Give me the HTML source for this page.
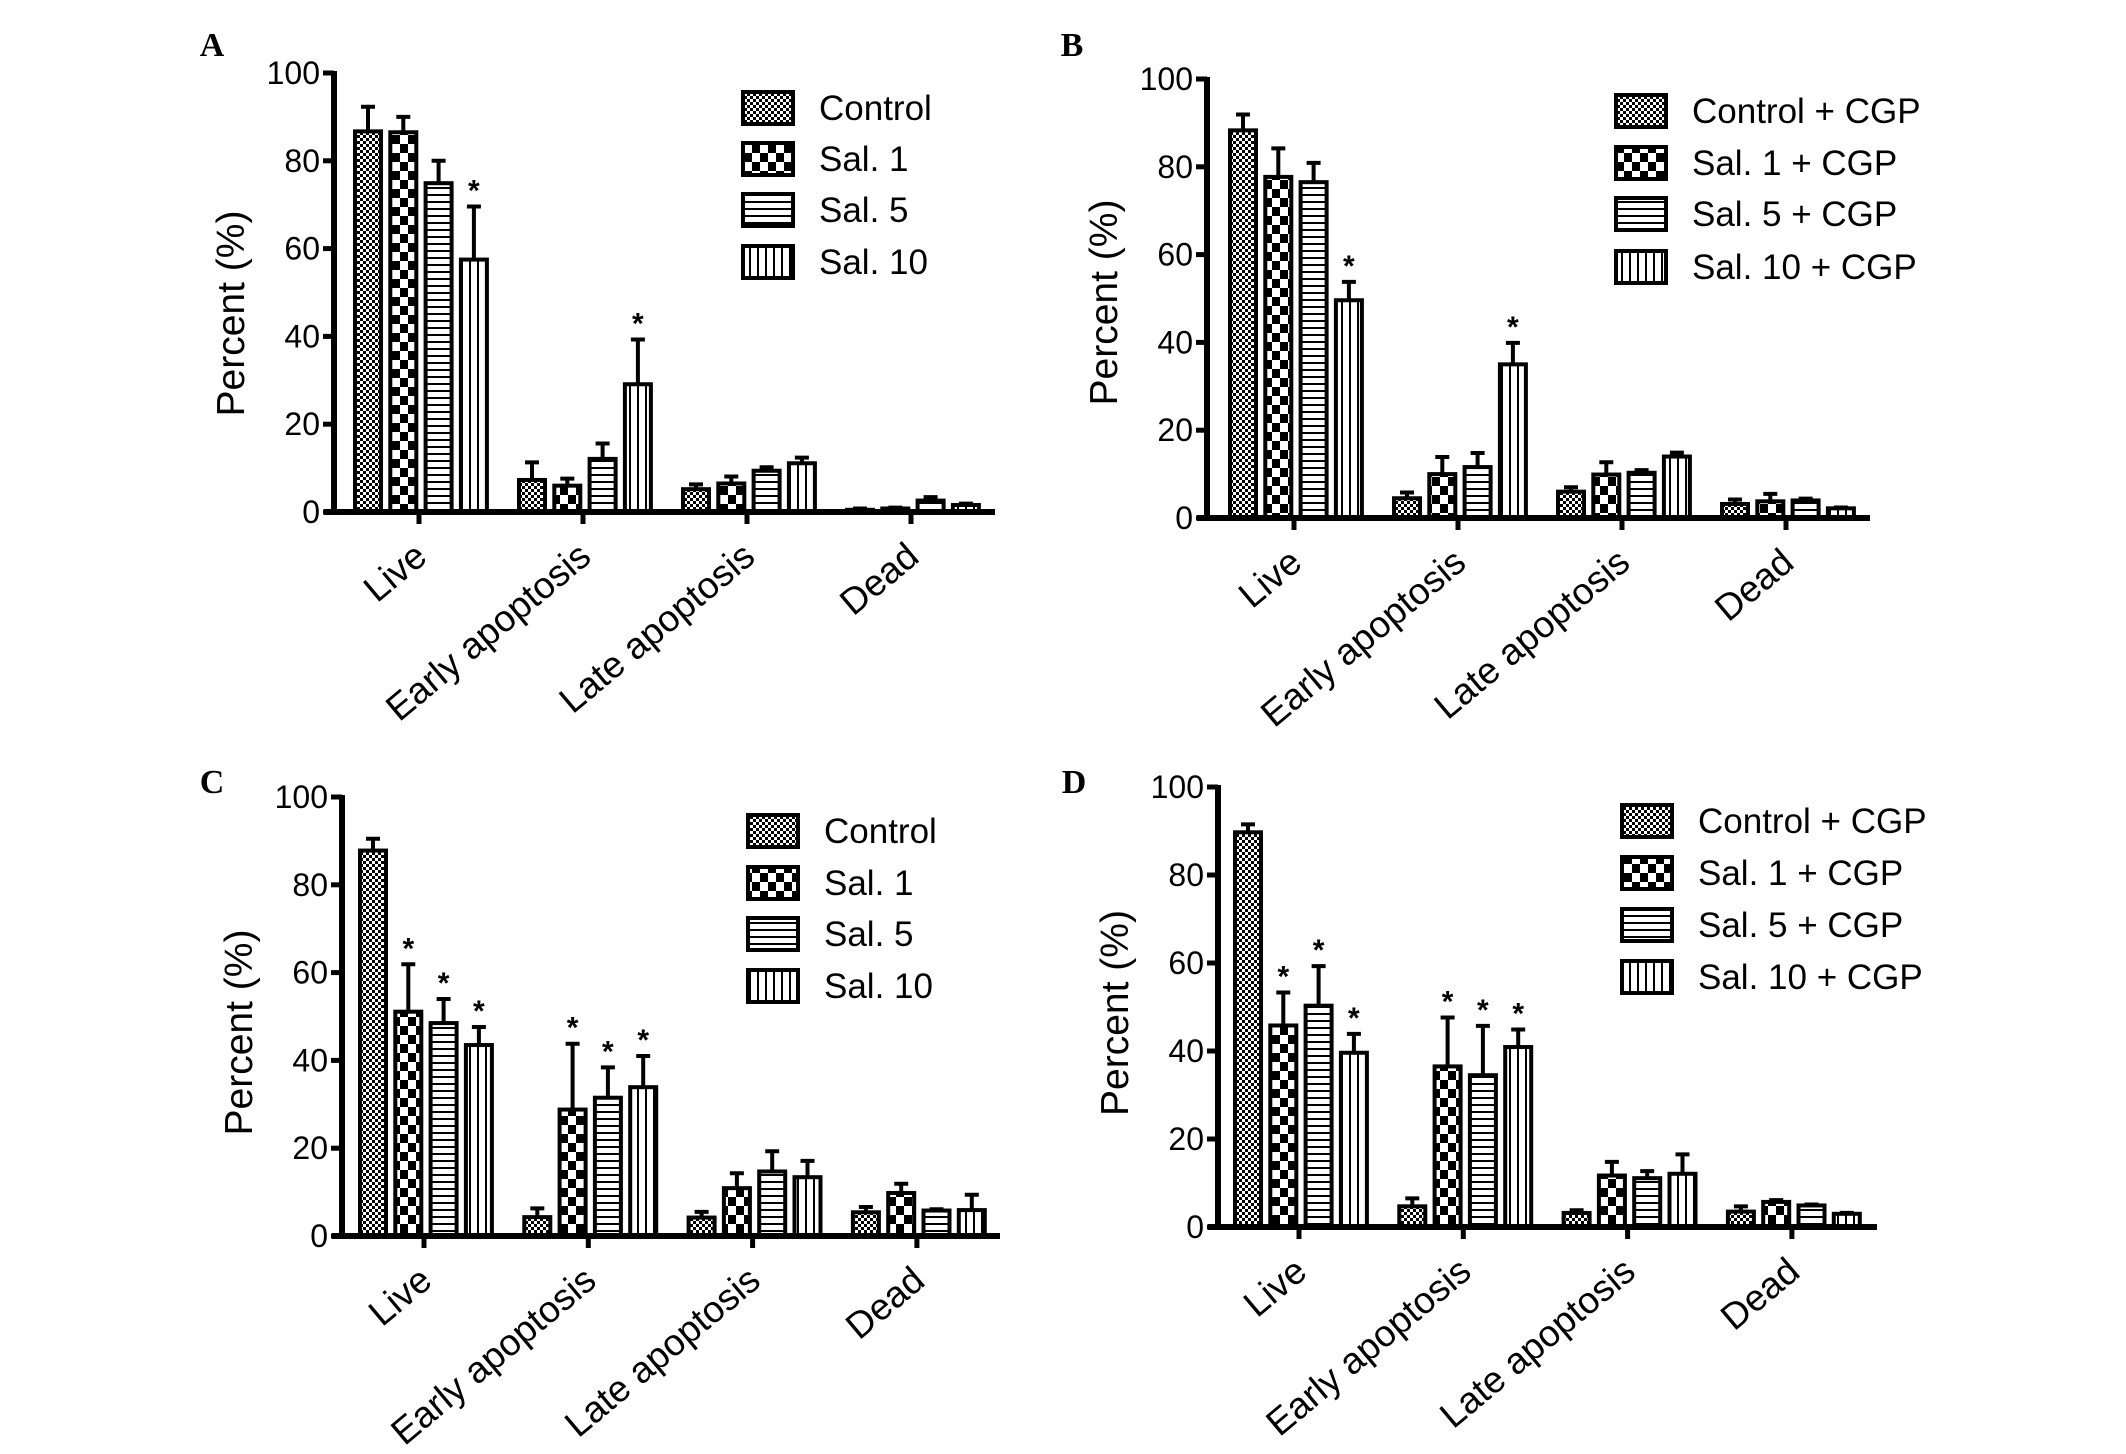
<!DOCTYPE html>
<html><head><meta charset="utf-8">
<style>
html,body{margin:0;padding:0;background:#fff;}
svg{display:block;}
text{font-family:"Liberation Sans",Arial,sans-serif;fill:#000;}
</style></head>
<body>
<svg id="fig" width="2126" height="1454" viewBox="0 0 2126 1454" xmlns="http://www.w3.org/2000/svg">
<defs>
<pattern id="pCtrl" width="6" height="6" patternUnits="userSpaceOnUse"><rect width="6" height="6" fill="#fff"/><rect width="3" height="3" fill="#000"/><rect x="3" y="3" width="3" height="3" fill="#000"/></pattern>
<pattern id="pS1" width="16" height="18" patternUnits="userSpaceOnUse"><rect width="16" height="18" fill="#fff"/><rect width="8" height="9" fill="#000"/><rect x="8" y="9" width="8" height="9" fill="#000"/></pattern>
<pattern id="pS5" width="8" height="7" patternUnits="userSpaceOnUse"><rect width="8" height="7" fill="#fff"/><rect y="5" width="8" height="2" fill="#000"/></pattern>
<pattern id="pS10" width="8" height="8" patternUnits="userSpaceOnUse"><rect width="8" height="8" fill="#fff"/><rect x="5" width="2" height="8" fill="#000"/></pattern>
</defs>
</svg>
<script>
const categories = ["Live", "Early apoptosis", "Late apoptosis", "Dead"];
const seriesNamesAC = ["Control", "Sal. 1", "Sal. 5", "Sal. 10"];
const seriesNamesBD = ["Control + CGP", "Sal. 1 + CGP", "Sal. 5 + CGP", "Sal. 10 + CGP"];
const yTicks = [0, 20, 40, 60, 80, 100];
// values[category][series]
const valsA = [[86.7,86.5,74.9,57.5],[7.3,6.0,12.1,29.1],[5.2,6.5,9.4,11.1],[0.5,0.8,2.6,1.6]];
const errsA = [[92.3,90.0,80.0,69.6],[11.3,7.6,15.6,39.3],[6.3,8.1,10.2,12.4],[0.8,1.0,3.4,1.9]];
const starsA = [[0,3],[1,3]];
const valsB = [[88.3,77.7,76.5,49.6],[4.5,10.0,11.6,35.0],[6.0,9.9,10.3,14.0],[3.2,3.8,4.0,2.2]];
const errsB = [[91.9,84.2,80.9,53.8],[5.8,13.9,14.8,39.9],[7.0,12.7,10.9,14.9],[4.2,5.5,4.4,2.4]];
const starsB = [[0,3],[1,3]];
const valsC = [[87.8,51.1,48.5,43.5],[4.3,28.8,31.5,33.9],[4.2,10.9,14.7,13.4],[5.4,9.8,5.8,5.9]];
const errsC = [[90.5,61.9,54.0,47.6],[6.3,43.8,38.4,41.0],[5.5,14.3,19.3,17.1],[6.6,11.9,6.1,9.4]];
const starsC = [[0,1],[0,2],[0,3],[1,1],[1,2],[1,3]];
const valsD = [[89.7,45.8,50.3,39.6],[4.7,36.5,34.5,40.9],[3.2,11.7,11.1,12.1],[3.5,5.7,4.9,3.0]];
const errsD = [[91.5,53.3,59.3,43.9],[6.5,47.6,45.7,44.9],[3.8,14.8,12.7,16.5],[4.7,6.1,5.1,3.2]];
const starsD = [[0,1],[0,2],[0,3],[1,1],[1,2],[1,3]];

const pats = ["url(#pCtrl)","url(#pS1)","url(#pS5)","url(#pS10)"];
const NS = "http://www.w3.org/2000/svg";
const svg = document.getElementById("fig");
function mk(tag, attrs, parent){const e=document.createElementNS(NS,tag);for(const k in attrs)e.setAttribute(k,attrs[k]);(parent||svg).appendChild(e);return e;}

const panels = [
 {id:"a",letter:"A",lx:212,ly:56,ax:334,y100:73,y0:512,xEnd:995,c0:419,step:164,legX:741,legRows:[108,159,210,262],names:seriesNamesAC,vals:valsA,errs:errsA,stars:starsA,titleDy:21},
 {id:"b",letter:"B",lx:1072,ly:56,ax:1207,y100:79,y0:518,xEnd:1870,c0:1294,step:164,legX:1614,legRows:[111,163,214,267],names:seriesNamesBD,vals:valsB,errs:errsB,stars:starsB,titleDy:4},
 {id:"c",letter:"C",lx:212,ly:793,ax:342,y100:797,y0:1236,xEnd:1000,c0:424,step:164.3,legX:746,legRows:[831,883,934,986],names:seriesNamesAC,vals:valsC,errs:errsC,stars:starsC,titleDy:16},
 {id:"d",letter:"D",lx:1074,ly:793,ax:1218,y100:787,y0:1227,xEnd:1877,c0:1299,step:164.3,legX:1620,legRows:[821,873,925,977],names:seriesNamesBD,vals:valsD,errs:errsD,stars:starsD,titleDy:6}
];

panels.forEach(p=>{
  const g = mk("g",{});
  
  
  const yS = v => p.y0 - (v/100)*(p.y0-p.y100);
  const cx = i => p.c0 + i*p.step;
  const L = mk("text",{x:p.lx,y:p.ly,"text-anchor":"middle","font-size":"34","font-weight":"bold",style:"font-family:'Liberation Serif',serif"},g);
  L.textContent=p.letter;
  
  
  p.vals.forEach((row,ci)=>{
    row.forEach((v,si)=>{
      const x = cx(ci) - 64 + si*35.3;
      const w = 26;
      const r = mk("rect",{x:x,y:yS(v),width:w,height:p.y0-yS(v),fill:pats[si],stroke:"#000","stroke-width":4},g);
      
      
      const e = p.errs[ci][si];
      const mx = x + w/2;
      const el = mk("path",{d:`M${mx},${yS(v)} V${yS(e)} M${mx-7},${yS(e)} H${mx+7}`,stroke:"#000","stroke-width":4,fill:"none"},g);
      
      
    });
  });
  p.stars.forEach(([ci,si])=>{
    const x = cx(ci) - 64 + si*35.3 + 13;
    const t = mk("text",{x:x,y:yS(p.errs[ci][si])-6,"text-anchor":"middle","font-size":"30","font-weight":"bold"},g);
    t.textContent="*";
    
    
  });
  const ya = mk("line",{x1:p.ax,y1:p.y100-2,x2:p.ax,y2:p.y0+3,stroke:"#000","stroke-width":6},g);
  
  
  const xa = mk("line",{x1:p.ax-10,y1:p.y0,x2:p.xEnd,y2:p.y0,stroke:"#000","stroke-width":6},g);
  
  
  yTicks.forEach(t=>{
    const y=yS(t);
    const tm = mk("line",{x1:p.ax-11,y1:y,x2:p.ax,y2:y,stroke:"#000","stroke-width":5},g);
    
    
    const tl = mk("text",{x:p.ax-14,y:y+11,"text-anchor":"end","font-size":"32"},g);
    tl.textContent=String(t);
    
    
  });
  categories.forEach((c,ci)=>{
    const x=cx(ci);
    const tm = mk("line",{x1:x,y1:p.y0,x2:x,y2:p.y0+12,stroke:"#000","stroke-width":5},g);
    
    
    const tx=x+10, ty=p.y0+48;
    const tl = mk("text",{x:tx,y:ty,"text-anchor":"end","font-size":"37",transform:`rotate(-40 ${tx} ${ty})`},g);
    tl.textContent=c;
    
    
  });
  const tx = p.ax-90, ty=(p.y0+p.y100)/2+p.titleDy;
  const yt = mk("text",{x:tx,y:ty,"text-anchor":"middle","font-size":"39",transform:`rotate(-90 ${tx} ${ty})`},g);
  yt.textContent="Percent (%)";
  
  
  p.names.forEach((n,si)=>{
    const ry=p.legRows[si];
    const b = mk("rect",{x:p.legX+2,y:ry-16,width:50,height:32,fill:pats[si],stroke:"#000","stroke-width":4},g);
    
    
    const t = mk("text",{x:p.legX+78,y:ry+12,"font-size":"35"},g);
    t.textContent=n;
    
    
  });
});
</script>
</body></html>
